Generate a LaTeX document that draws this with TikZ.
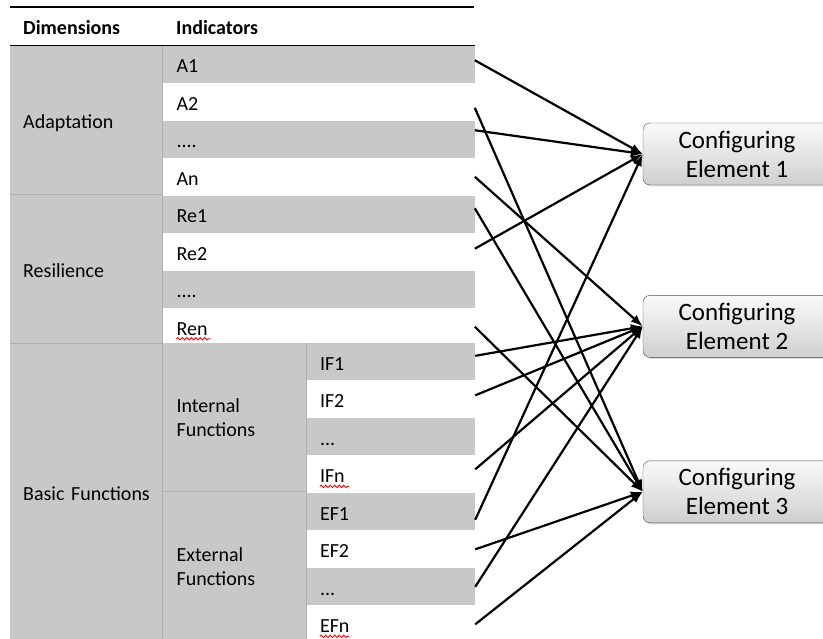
\documentclass[tikz,border=0pt]{standalone}
\usepackage{fontspec}
\setmainfont{Carlito}
\usepackage{tikz}
\usetikzlibrary{arrows.meta, positioning, shadows, decorations.pathmorphing}

\definecolor{cellgray}{RGB}{200,200,200}
\definecolor{rulegray}{RGB}{176,176,176}

\begin{document}
\begin{tikzpicture}[
    x=1pt, y=-1pt,
    font=\fontsize{20}{24}\selectfont,
    dimcell/.style={fill=cellgray, inner xsep=13pt, inner ysep=0pt, text width=126pt, align=left, text height=20pt, text depth=3pt},
    subcell/.style={fill=cellgray, inner xsep=14pt, inner ysep=0pt, text width=116pt, align=left, minimum height=148.4pt},
    ind/.style={inner xsep=14pt, inner ysep=0pt, text width=284pt, align=left, minimum height=37.1pt, text height=20pt, text depth=3pt},
    indg/.style={ind, fill=cellgray},
    subind/.style={ind, inner xsep=13pt, text width=142pt},
    subindg/.style={subind, fill=cellgray},
    head/.style={font=\fontsize{20}{24}\selectfont\bfseries, inner sep=0pt, anchor=base west},
    rule/.style={draw=rulegray, line width=1pt},
    cfg/.style={draw=black!70, rounded corners=7pt, top color=gray!4, bottom color=gray!38, drop shadow={opacity=0.3, shadow xshift=1.5pt, shadow yshift=-1.5pt}, minimum width=188pt, minimum height=62pt, align=center, font=\fontsize{25}{29}\selectfont},
    arr/.style={-{Latex[length=12pt, width=9pt]}, line width=2.2pt},
    squiggle/.style={draw=red, line width=0.9pt, decorate, decoration={snake, amplitude=1.2pt, segment length=4.5pt}},
  ]
  \clip (0,0) rectangle (823,639);

  % header
  \node[head] (hdim) at (23,35) {Dimensions};
  \node[head] (hind) at (176,35) {Indicators};

  % dimensions column
  \node[dimcell, minimum height=148.4pt, anchor=north west] (adapt) at (10,45.5) {Adaptation};
  \node[dimcell, minimum height=148.4pt, below=0pt of adapt] (resil) {Resilience};
  \node[dimcell, minimum height=296.8pt, below=0pt of resil] (basic) {\mbox{Basic Functions}};

  % indicators
  \node[indg, anchor=north west] (a1) at (adapt.north east) {A1};
  \node[ind, below=0pt of a1] (a2) {A2};
  \node[indg, below=0pt of a2] (adots) {....};
  \node[ind, below=0pt of adots] (an) {An};
  \node[indg, below=0pt of an] (re1) {Re1};
  \node[ind, below=0pt of re1] (re2) {Re2};
  \node[indg, below=0pt of re2] (redots) {....};
  \node[ind, below=0pt of redots] (ren) {Ren};

  \node[subcell, anchor=north west] (intf) at (basic.north east) {Internal\\Functions};
  \node[subcell, below=0pt of intf] (extf) {External\\Functions};

  \node[subindg, anchor=north west] (if1) at (intf.north east) {IF1};
  \node[subind, below=0pt of if1] (if2) {IF2};
  \node[subindg, below=0pt of if2] (ifdots) {...};
  \node[subind, below=0pt of ifdots] (ifn) {IFn};
  \node[subindg, below=0pt of ifn] (ef1) {EF1};
  \node[subind, below=0pt of ef1] (ef2) {EF2};
  \node[subindg, below=0pt of ef2] (efdots) {...};
  \node[subind, below=0pt of efdots] (efn) {EFn};

  % table rules
  \draw[rule] (adapt.north east) -- (basic.south east);
  \draw[rule] (adapt.south west) -- (adapt.south east);
  \draw[rule] (resil.south west) -- (resil.south east);
  \draw[rule] (intf.north east) -- (extf.south east);
  \draw[rule] (intf.south west) -- (intf.south east);
  \draw[line width=2pt] (10,7) -- (474,7);
  \draw[line width=1.2pt] (adapt.north west) -- (a1.north east);

  % spell-check marks
  \draw[squiggle] ([xshift=14pt, yshift=-3.5pt]ren.base west) -- ++(34,0);
  \draw[squiggle] ([xshift=13pt, yshift=-3.5pt]ifn.base west) -- ++(29,0);
  \draw[squiggle] ([xshift=13pt, yshift=-3.5pt]efn.base west) -- ++(29,0);

  % configuring elements
  \node[cfg] (ce1) at (737,154) {Configuring\\Element 1};
  \node[cfg, below=110pt of ce1] (ce2) {Configuring\\Element 2};
  \node[cfg, below=103pt of ce2] (ce3) {Configuring\\Element 3};

  \draw[arr] ([yshift=4pt]a1.east) -- (ce1.west);
  \draw[arr] ([yshift=-6pt]a2.east) -- (ce3.west);
  \draw[arr] ([yshift=9pt]adots.east) -- (ce1.west);
  \draw[arr] (an.east) -- (ce2.west);
  \draw[arr] ([yshift=6pt]re1.east) -- (ce3.west);
  \draw[arr] ([yshift=3pt]re2.east) -- (ce1.west);
  \draw[arr] (ren.east) -- (ce3.west);
  \draw[arr] ([yshift=6pt]if1.east) -- (ce2.west);
  \draw[arr] ([yshift=4pt]if2.east) -- (ce2.west);
  \draw[arr] ([yshift=5pt]ifn.east) -- (ce2.west);
  \draw[arr] ([yshift=-8pt]ef1.east) -- (ce1.west);
  \draw[arr] (ef2.east) -- (ce3.west);
  \draw[arr] (efdots.east) -- (ce2.west);
  \draw[arr] (efn.east) -- (ce3.west);
\end{tikzpicture}
\end{document}
